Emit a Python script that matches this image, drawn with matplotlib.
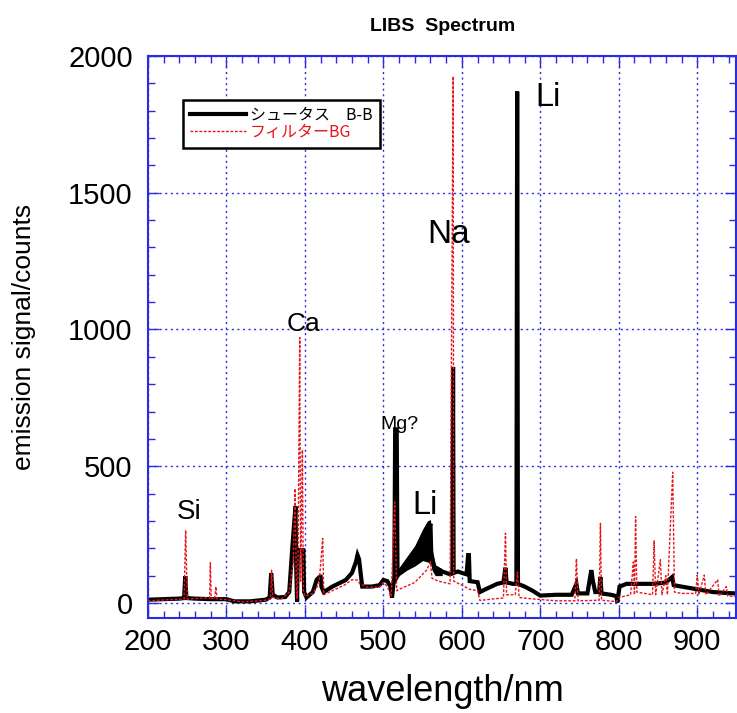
import matplotlib
matplotlib.use('Agg')
import matplotlib.pyplot as plt
from matplotlib.ticker import MultipleLocator
from matplotlib.lines import Line2D

# black trace (シュータス B-B): wavelength / counts
bb_nm = [200, 220, 240, 246, 247.5, 249, 260, 280, 300, 310, 330, 350, 355, 357, 359,
         365, 375, 380, 384, 386, 388, 389, 390, 391, 396, 398, 399, 402, 410, 415,
         419, 420, 421, 424, 435, 452, 460, 465, 467, 469, 473, 485, 495, 500, 505,
         509, 511, 514, 515, 517, 518, 520, 530, 540, 550, 557, 560, 561, 565, 575,
         585, 588, 588.8, 589.5, 595, 600, 606, 608, 609, 610, 620, 623, 630, 645,
         653, 655.5, 657, 665, 669.5, 670.5, 671.5, 680, 690, 700, 720, 740, 746,
         748, 760, 765, 767, 770, 775, 776.5, 778, 790, 797, 798, 801, 810, 830,
         845, 860, 868, 870, 880, 900, 920, 940, 950]
bb_cnt = [12, 14, 16, 18, 98, 18, 16, 14, 14, 6, 6, 12, 20, 109, 30,
          20, 22, 40, 205, 280, 353, 120, 5, 193, 193, 193, 40, 20, 40, 85,
          96, 96, 60, 40, 60, 84, 110, 150, 175, 160, 60, 60, 65, 84, 80,
          60, 20, 100, 635, 635, 100, 109, 140, 170, 220, 260, 290, 180, 130, 115,
          105, 110, 863, 110, 115, 110, 105, 175, 175, 80, 76, 40, 50, 70,
          75, 129, 75, 70, 70, 1870, 70, 60, 45, 27, 30, 30, 70,
          35, 35, 120, 80, 40, 40, 95, 35, 30, 25, 2, 60, 70, 70,
          70, 75, 95, 65, 60, 50, 40, 36, 35]

# noisy envelope of the black trace around the broad Li band
band_nm = [512, 520, 530, 540, 550, 556, 560, 562, 566, 575]
band_lo = [60, 100, 120, 135, 155, 150, 145, 120, 100, 100]
band_hi = [90, 130, 170, 210, 270, 300, 305, 200, 140, 125]

# red trace (フィルターBG)
bg_nm = [200, 240, 246, 248, 250, 270, 278.5, 279.5, 280.5, 285, 286.5, 288, 300, 320,
         350, 356, 357.5, 359, 370, 380, 385, 387.5, 389, 390, 391, 393.4, 394.5,
         396.8, 398, 400, 410, 418, 422.7, 424, 435, 450, 460, 467, 470, 480, 495,
         500, 505, 510, 514.4, 517, 520, 540, 555, 560, 562, 570, 585, 588.9, 589.6,
         600, 610, 620, 623, 640, 653, 655.6, 657, 668, 670.8, 673, 690, 720, 744,
         746, 748, 775, 776.6, 778, 797, 800, 815, 818.6, 820, 821.4, 823, 843, 845,
         847, 853, 855, 860, 862, 868.7, 871, 880, 898, 900, 902, 909, 911, 926, 928,
         937, 939, 950]
bg_cnt = [8, 14, 14, 266, 14, 18, 18, 147, 18, 15, 60, 15, 12, 4,
          10, 15, 120, 20, 15, 40, 150, 418, 80, 15, 80, 970, 80,
          560, 40, 25, 35, 70, 236, 30, 45, 65, 85, 84, 70, 58, 58,
          75, 60, 25, 369, 45, 50, 75, 120, 150, 90, 80, 70, 1925, 80,
          65, 50, 45, 9, 15, 18, 255, 30, 30, 113, 20, 15, 8, 8,
          162, 8, 10, 291, 10, 5, 20, 30, 150, 30, 316, 40, 30, 227,
          30, 158, 30, 100, 30, 478, 40, 35, 35, 102, 30, 102, 30, 85, 25,
          60, 25, 25]

# peak labels: text, x, y (baseline), size
labels = ['Si', 'Ca', 'Mg?', 'Na', 'Li', 'Li']
label_x = [253, 398, 521, 583, 553, 710]
label_y = [306, 994, 635, 1318, 324, 1816]
label_size = [20, 19, 14, 24, 23.5, 23.5]

legend_names = ['シュータス　B-B', 'フィルターBG']

plt.rcParams['font.family'] = ['Liberation Sans', 'Noto Sans CJK JP', 'DejaVu Sans']
blue = '#2b2be0'
red = '#e8141b'

fig = plt.figure(figsize=(7.37, 7.13), dpi=100)
ax = fig.add_axes([0.2008, 0.1332, 0.7985, 0.7883])

ax.fill_between(band_nm, band_lo, band_hi, color='black', lw=0)
ax.plot(bb_nm, bb_cnt, color='black', lw=3, solid_joinstyle='miter')
ax.plot(bg_nm, bg_cnt, color=red, lw=1.0, ls=(0, (2, 1.2)))

for t, x, y, s in zip(labels, label_x, label_y, label_size):
    ax.text(x, y, t, fontsize=s, ha='center', va='baseline')

ax.set_xlim(200, 950)
ax.set_ylim(-55, 2000)
ax.xaxis.set_major_locator(MultipleLocator(100))
ax.xaxis.set_minor_locator(MultipleLocator(20))
ax.yaxis.set_major_locator(MultipleLocator(500))
ax.yaxis.set_minor_locator(MultipleLocator(100))
ax.tick_params(which='both', direction='in', color=blue, top=True, right=True,
               labelsize=21, width=1)
ax.tick_params(which='major', length=8)
ax.tick_params(which='minor', length=5)
ax.tick_params(axis='x', which='major', pad=7)
ax.tick_params(axis='y', which='major', pad=11)
for s in ax.spines.values():
    s.set_color(blue)
    s.set_linewidth(1.5)
ax.grid(True, which='major', color=blue, ls=(0, (1.5, 2.5)), lw=1)

ax.set_xlabel('wavelength/nm', fontsize=26, labelpad=13)
ax.set_ylabel('emission signal/counts', fontsize=19)
ax.yaxis.set_label_coords(-0.19, 0.5)
ax.set_title('LIBS  Spectrum', fontsize=14, fontweight='bold', pad=18)

handles = [Line2D([], [], color='black', lw=3),
           Line2D([], [], color=red, lw=1, ls=(0, (2, 1.2)))]
leg = ax.legend(handles, legend_names, loc='upper left', bbox_to_anchor=(0.059, 0.922),
                prop={'family': ['Noto Sans CJK JP'], 'size': 11.5}, fancybox=False,
                edgecolor='black', framealpha=1, handlelength=3.5, handletextpad=0.25,
                labelspacing=0.0, borderpad=0.45, borderaxespad=0)
leg.get_frame().set_linewidth(1.8)
leg.get_texts()[1].set_color(red)

fig.savefig('out.png', dpi=100)
